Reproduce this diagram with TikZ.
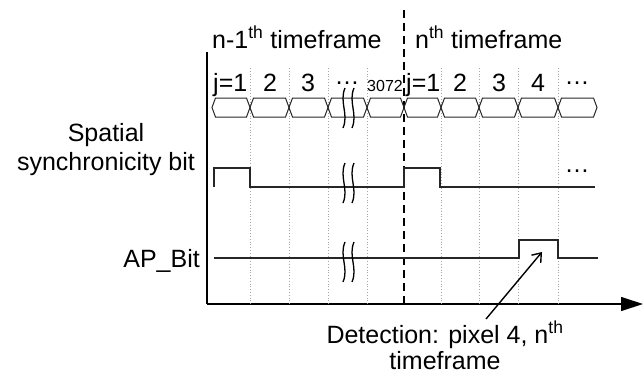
\documentclass[tikz,border=0pt]{standalone}
\usepackage{fontspec}
\setmainfont{Liberation Sans}
\usetikzlibrary{arrows.meta}
\begin{document}
\begin{tikzpicture}[x=1pt,y=-1pt,
  lbl/.style={inner sep=0pt,font=\fontsize{25}{29}\selectfont},
  small/.style={inner sep=0pt,font=\fontsize{16}{19}\selectfont},
  sig/.style={line width=1.5pt,black!85},
  grid/.style={gray!70,dotted,line width=0.8pt},
  buscell/.style={line width=1pt,black!85},
  brk/.style={line width=1.3pt,black}]
\useasboundingbox (0,0) rectangle (644,378);
% axes
\coordinate (ytop) at (207,52);
\coordinate (orig) at (207,304);
\coordinate (xend) at (643,304);
\draw[line width=1.2pt] (ytop) -- (orig);
\draw[line width=1.2pt,-{Triangle[length=22pt,width=14pt]}] (orig) -- (xend);
% grid lines
\foreach \x in {250,289,328,367,441,479,518,558}
  \draw[grid] (\x,68) -- (\x,304);
\coordinate (dtop) at (404,10);
\coordinate (dbot) at (404,304);
\draw[line width=1.2pt,dash pattern=on 8pt off 5pt] (dtop) -- (dbot);
% bus cells
\foreach \a/\b in {212/250,250/289,289/328,328/367,367/404,404/441,441/479,479/518,518/558,558/597}
  \draw[buscell] (\a,107.5) -- (\a+3.5,98) -- (\b-3.5,98) -- (\b,107.5) -- (\b-3.5,117) -- (\a+3.5,117) -- cycle;
% timeframe labels
\node[lbl,anchor=base west] (tf1) at (212,48) {n-1\textsuperscript{th} timeframe};
\node[lbl,anchor=base west] (tf2) at (415,48) {n\textsuperscript{th} timeframe};
% cell labels
\node[lbl,anchor=base west] (j1a) at (213,91) {j=1};
\node[lbl,anchor=base] (c2a) at (270,91) {2};
\node[lbl,anchor=base] (c3a) at (308,91) {3};
\node[lbl,anchor=base] (cda) at (347,84) {\dots};
\node[small,anchor=base east] (c3072) at (403,91) {3072};
\node[lbl,anchor=base west] (j1b) at (406,91) {j=1};
\node[lbl,anchor=base] (c2b) at (460,91) {2};
\node[lbl,anchor=base] (c3b) at (499,91) {3};
\node[lbl,anchor=base] (c4b) at (538,91) {4};
\node[lbl,anchor=base] (cdb) at (577,84) {\dots};
% signal labels
\node[lbl,anchor=base,align=center] (ssbl) at (106,170) {Spatial\\synchronicity bit};
\node[lbl,anchor=base east] (apl) at (200,267) {AP\_Bit};
% spatial synchronicity signal
\draw[sig] (214,187) -- (214,168) -- (250,168) -- (250,187) -- (404,187) -- (404,168) -- (440,168) -- (440,187) -- (595,187);
\node[lbl,anchor=base] (ssbdots) at (577,172) {\dots};
% AP bit signal
\draw[sig] (214,258) -- (519,258) -- (519,240) -- (558,240) -- (558,258) -- (598,258);
% break marks
\foreach \y in {88,163,242}
  \foreach \x in {345,354}
    \draw[brk] (\x,\y) .. controls (\x-6,\y+14) and (\x+4,\y+26) .. (\x-2,\y+40);
% detection label and arrow
\node[lbl,anchor=base] (det) at (445,343) {Detection: pixel 4, n\textsuperscript{th}};
\node[lbl,anchor=base] (det2) at (445,369) {timeframe};
\coordinate (ptr) at (542,252);
\draw[line width=1.4pt,-{Straight Barb[length=8pt,width=12pt]}] (486,319) -- (ptr);
\end{tikzpicture}
\end{document}
